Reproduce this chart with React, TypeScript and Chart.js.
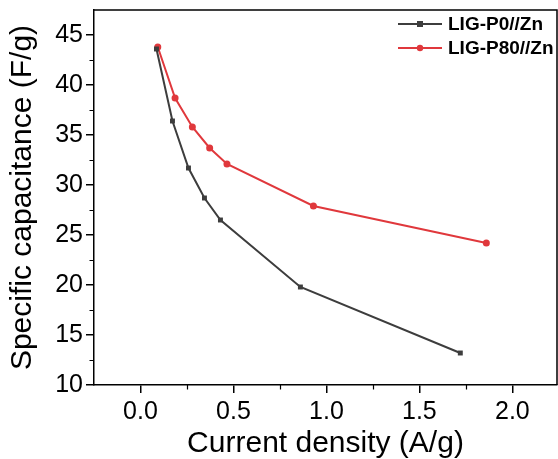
import React, { useEffect, useRef } from "react";
import { Chart, registerables } from "chart.js";

Chart.register(...registerables);

const seriesNames = ["LIG-P0//Zn", "LIG-P80//Zn"];
const p0Current = [0.086, 0.172, 0.258, 0.344, 0.43, 0.86, 1.72];
const p0Capacitance = [43.6, 36.4, 31.7, 28.7, 26.5, 19.8, 13.2];
const p80Current = [0.093, 0.186, 0.279, 0.372, 0.465, 0.93, 1.86];
const p80Capacitance = [43.8, 38.7, 35.8, 33.7, 32.1, 27.9, 24.2];
const xTickValues = [0, 0.5, 1, 1.5, 2];
const yTickValues = [10, 15, 20, 25, 30, 35, 40, 45];
const xMinorTicks = [0.25, 0.75, 1.25, 1.75];
const yMinorTicks = [12.5, 17.5, 22.5, 27.5, 32.5, 37.5, 42.5];

const FONT = "'Liberation Sans', Arial, sans-serif";
const BLACK = "#3d3d3d";
const RED = "#e0383c";

const framePlugin = {
  id: "frameAndLegend",
  afterDraw(chart: any) {
    const { ctx, chartArea } = chart;
    const xs = chart.scales.x;
    const ys = chart.scales.y;
    ctx.save();
    ctx.strokeStyle = "#000";
    ctx.lineWidth = 1.5;
    ctx.beginPath();
    ctx.moveTo(chartArea.left, chartArea.top);
    ctx.lineTo(chartArea.right, chartArea.top);
    ctx.lineTo(chartArea.right, chartArea.bottom);
    ctx.stroke();
    // minor ticks
    ctx.lineWidth = 1.2;
    ctx.beginPath();
    for (const v of xMinorTicks) {
      const px = Math.round(xs.getPixelForValue(v)) + 0.5;
      ctx.moveTo(px, chartArea.bottom);
      ctx.lineTo(px, chartArea.bottom + 4.5);
    }
    for (const v of yMinorTicks) {
      const py = Math.round(ys.getPixelForValue(v)) + 0.5;
      ctx.moveTo(chartArea.left, py);
      ctx.lineTo(chartArea.left - 4.5, py);
    }
    ctx.stroke();
    // legend
    const rows = [24, 48];
    chart.data.datasets.forEach((ds: any, i: number) => {
      const y = rows[i];
      ctx.strokeStyle = ds.borderColor;
      ctx.lineWidth = 2;
      ctx.beginPath();
      ctx.moveTo(398, y);
      ctx.lineTo(442, y);
      ctx.stroke();
      ctx.fillStyle = ds.borderColor;
      if (ds.pointStyle === "rect") {
        ctx.fillRect(420 - 3, y - 3, 6, 6);
      } else {
        ctx.beginPath();
        ctx.arc(420, y, 3.2, 0, Math.PI * 2);
        ctx.fill();
      }
      ctx.fillStyle = "#000";
      ctx.font = `bold 19px ${FONT}`;
      ctx.textBaseline = "middle";
      ctx.textAlign = "left";
      ctx.fillText(ds.label, 448, y + 1);
    });
    ctx.restore();
  },
};

export default function App() {
  const ref = useRef<HTMLCanvasElement>(null);
  useEffect(() => {
    if (!ref.current) return;
    const chart = new Chart(ref.current, {
      type: "line",
      data: {
        datasets: [
          {
            label: seriesNames[0],
            data: p0Current.map((x, i) => ({ x, y: p0Capacitance[i] })),
            borderColor: BLACK,
            backgroundColor: BLACK,
            borderWidth: 2,
            pointStyle: "rect",
            pointRadius: 3.5,
            pointBorderWidth: 0,
          },
          {
            label: seriesNames[1],
            data: p80Current.map((x, i) => ({ x, y: p80Capacitance[i] })),
            borderColor: RED,
            backgroundColor: RED,
            borderWidth: 2,
            pointStyle: "circle",
            pointRadius: 3.5,
            pointBorderWidth: 0,
          },
        ],
      },
      options: {
        animation: false,
        responsive: false,
        devicePixelRatio: 1,
        layout: { autoPadding: false, padding: { top: 10, right: 1, left: 0, bottom: 0 } },
        plugins: { legend: { display: false }, tooltip: { enabled: false } },
        scales: {
          x: {
            type: "linear",
            min: -0.25,
            max: 2.24,
            afterBuildTicks: (s: any) => {
              s.ticks = xTickValues.map((value) => ({ value }));
            },
            afterFit: (s: any) => {
              s.height = 74;
              s.paddingLeft = 0;
              s.paddingRight = 0;
            },
            ticks: {
              color: "#000",
              padding: 4,
              maxRotation: 0,
              autoSkip: false,
              font: { family: FONT, size: 25 },
              callback: (v: any) => Number(v).toFixed(1),
            },
            grid: {
              display: true,
              drawOnChartArea: false,
              drawTicks: true,
              tickLength: 8,
              color: "#000",
              lineWidth: 1.5,
            },
            border: { display: true, color: "#000", width: 1.5 },
            title: {
              display: true,
              text: "Current density (A/g)",
              color: "#000",
              font: { family: FONT, size: 30, lineHeight: 1 },
              padding: { top: 1, bottom: 0 },
            },
          },
          y: {
            type: "linear",
            min: 10,
            max: 47.5,
            afterBuildTicks: (s: any) => {
              s.ticks = yTickValues.map((value) => ({ value }));
            },
            afterFit: (s: any) => {
              s.width = 94;
              s.paddingTop = 0;
              s.paddingBottom = 0;
            },
            ticks: {
              color: "#000",
              padding: 3,
              autoSkip: false,
              font: { family: FONT, size: 25 },
              callback: (v: any) => String(v),
            },
            grid: {
              display: true,
              drawOnChartArea: false,
              drawTicks: true,
              tickLength: 8,
              color: "#000",
              lineWidth: 1.5,
            },
            border: { display: true, color: "#000", width: 1.5 },
            title: {
              display: true,
              text: "Specific capacitance (F/g)",
              color: "#000",
              font: { family: FONT, size: 30 },
              padding: { top: 5, bottom: 0 },
            },
          },
        },
      },
      plugins: [framePlugin],
    });
    return () => chart.destroy();
  }, []);
  return (
    <div style={{ position: "fixed", left: 0, top: 0, width: 558, height: 459, background: "#fff" }}>
      <canvas ref={ref} width={558} height={459} />
    </div>
  );
}
